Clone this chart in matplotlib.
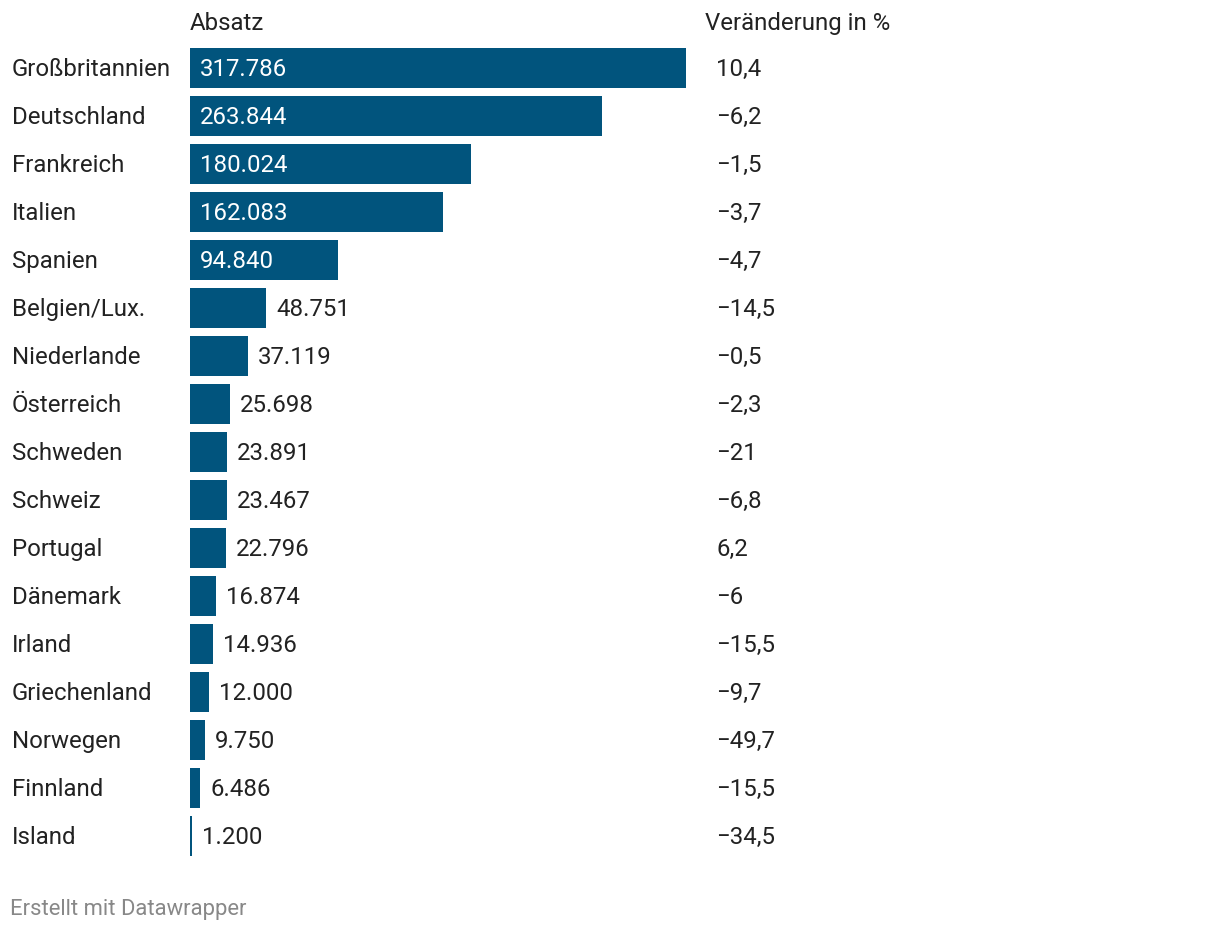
import matplotlib
matplotlib.use("Agg")
import matplotlib.pyplot as plt

plt.rcParams["font.family"] = ["Roboto", "DejaVu Sans"]

countries = ["Großbritannien", "Deutschland", "Frankreich", "Italien", "Spanien",
             "Belgien/Lux.", "Niederlande", "Österreich", "Schweden", "Schweiz",
             "Portugal", "Dänemark", "Irland", "Griechenland", "Norwegen",
             "Finnland", "Island"]
absatz = [317786, 263844, 180024, 162083, 94840, 48751, 37119, 25698, 23891,
          23467, 22796, 16874, 14936, 12000, 9750, 6486, 1200]
change = [10.4, -6.2, -1.5, -3.7, -4.7, -14.5, -0.5, -2.3, -21, -6.8, 6.2,
          -6, -15.5, -9.7, -49.7, -15.5, -34.5]

BAR = "#01547d"
TXT = "#222222"
W, H = 1220, 932
FS = 17.3
CAP = 0.711 * FS * 100 / 72 / 2 - 1  # half cap height in px, for vertical centring


def fmt_de(v):
    return f"{v:,}".replace(",", ".")


def fmt_pct(v):
    s = f"{abs(v):g}".replace(".", ",")
    return ("\u2212" if v < 0 else "") + s


fig = plt.figure(figsize=(W / 100, H / 100), dpi=100)
fig.patch.set_facecolor("white")

# bar axes in pixel layout: x 190..686, rows centred 68..836 (pitch 48)
ax = fig.add_axes([190 / W, (H - 860) / H, 496 / W, 816 / H])
ax.set_xlim(0, max(absatz))
ax.set_ylim(len(countries) - 0.5, -0.5)
ax.axis("off")

ys = range(len(countries))
ax.barh(ys, absatz, height=40 / 48, color=BAR, linewidth=0)

px = max(absatz) / 496  # data units per pixel
for y, name, v, c in zip(ys, countries, absatz, change):
    base = (H - (68 + 48 * y) - CAP) / H
    fig.text(12 / W, base, name, ha="left", va="baseline", fontsize=FS, color=TXT)
    if v > 80000:
        # long bars: label inside, white
        fig.text(200 / W, base, fmt_de(v), ha="left", va="baseline",
                 fontsize=FS, color="white")
    else:
        fig.text((190 + v / px + 10) / W, base, fmt_de(v), ha="left", va="baseline",
                 fontsize=FS, color=TXT)
    fig.text(716 / W, base, fmt_pct(c), ha="left", va="baseline", fontsize=FS, color=TXT)

head = (H - 22 - CAP) / H
fig.text(190 / W, head, "Absatz", ha="left", va="baseline", fontsize=FS, color=TXT)
fig.text(705 / W, head, "Veränderung in %", ha="left", va="baseline", fontsize=FS, color=TXT)
fig.text(10 / W, (H - 915) / H, "Erstellt mit Datawrapper", ha="left", va="baseline",
         fontsize=15.8, color="#888888")

fig.savefig("out.png", dpi=100)
